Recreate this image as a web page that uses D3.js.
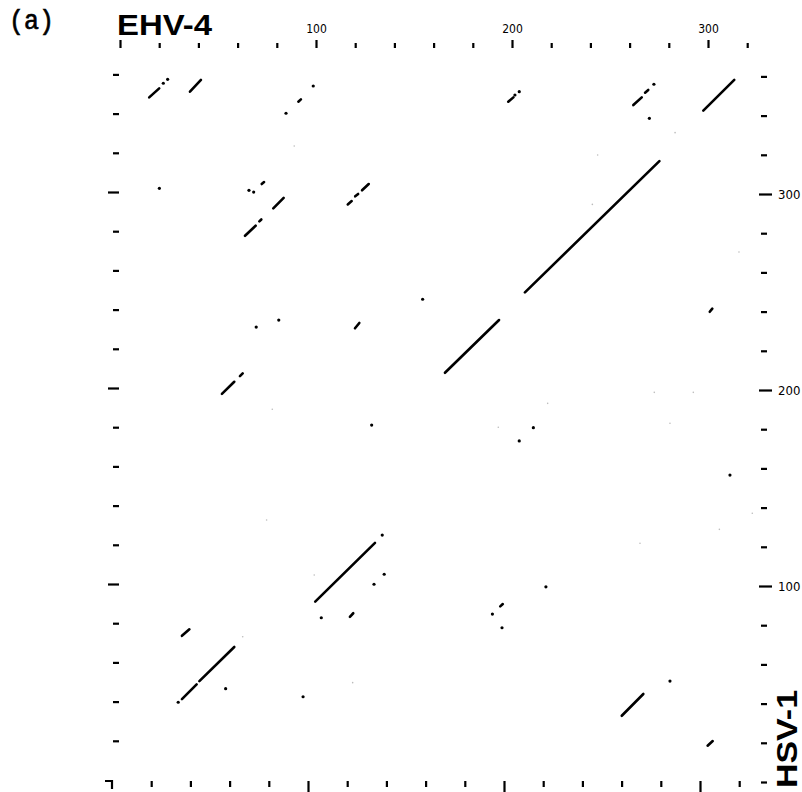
<!DOCTYPE html>
<html>
<head>
<meta charset="utf-8">
<script src="https://cdn.jsdelivr.net/npm/d3@7"></script>
<style>
  html, body { margin: 0; padding: 0; background: #fff; }
  svg { display: block; }
</style>
</head>
<body>
<svg id="plot" width="802" height="792"></svg>
<script>
// Dot-matrix comparison of EHV-4 (horizontal) against HSV-1 (vertical), residue positions.
const xMax = 320;           // EHV-4 axis extent
const yMax = 360;           // HSV-1 axis extent
const tickStep = 20;
const xTickLabels = [100, 200, 300];
const yTickLabels = [100, 200, 300];

// Diagonal runs of similarity: [ehv4Start, hsv1Start, ehv4End, hsv1End]
const segments = [
  [14.9, 349.3, 20.0, 353.9],
  [35.7, 352.2, 41.3, 358.2],
  [91.0, 347.1, 92.3, 348.3],
  [198.1, 347.1, 200.7, 349.3],
  [261.9, 345.4, 266.2, 349.3],
  [267.9, 351.7, 269.5, 353.1],
  [297.6, 342.5, 313.4, 358.2],
  [206.6, 249.8, 275.2, 316.8],
  [165.8, 208.8, 193.4, 235.7],
  [72.3, 305.1, 73.5, 306.1],
  [78.2, 292.7, 83.5, 298.0],
  [63.8, 278.7, 69.2, 283.8],
  [71.1, 286.0, 72.1, 287.0],
  [116.2, 294.7, 118.2, 296.4],
  [120.0, 298.8, 121.5, 300.0],
  [123.5, 301.9, 126.9, 305.1],
  [119.9, 231.5, 122.1, 234.2],
  [52.0, 198.0, 58.3, 204.2],
  [61.2, 207.1, 62.6, 208.5],
  [99.6, 92.0, 130.1, 122.0],
  [117.3, 84.3, 119.0, 86.1],
  [31.6, 74.6, 35.4, 77.9],
  [31.6, 42.3, 39.1, 49.8],
  [40.5, 51.5, 58.3, 68.9],
  [194.0, 89.6, 195.3, 90.8],
  [256.0, 33.8, 267.0, 44.9],
  [299.8, 18.5, 302.4, 20.9],
  [300.9, 239.9, 302.2, 241.5]
];

// Isolated matches: [ehv4, hsv1]
const dots = [
  [22.1, 356.5], [24.3, 358.5], [84.7, 341.2], [98.6, 355.1],
  [201.5, 350.5], [203.7, 352.2], [272.4, 356.0], [270.1, 338.6],
  [20.1, 302.9], [65.8, 301.9], [68.2, 301.0], [81.0, 235.7],
  [128.4, 182.1], [133.8, 126.0], [134.8, 106.0], [129.6, 100.9],
  [102.7, 83.8], [29.7, 40.7], [53.9, 47.6], [93.4, 43.5],
  [210.9, 180.8], [203.7, 174.0], [217.3, 99.6], [190.0, 85.7],
  [194.9, 78.7], [154.4, 246.3], [311.2, 156.6], [280.6, 51.5],
  [69.5, 232.1]
];

// Weak single-residue hits, printed lightly
const faintDots = [
  [88.9, 324.5], [77.7, 190.2], [74.8, 133.7], [99.1, 105.6],
  [62.6, 74.1], [118.7, 50.7], [315.8, 270.4], [283.2, 331.3],
  [305.8, 128.9], [322.6, 137.1], [265.3, 121.8], [243.7, 319.9],
  [241.0, 294.7], [272.6, 198.8], [292.5, 198.8], [280.6, 183.0],
  [193.0, 181.0], [218.2, 193.2]
];

const svg = d3.select("#plot");

// Data scales (top and right axes carry the labels)
const x = d3.scaleLinear().domain([0, xMax]).range([120, 120 + xMax * 1.96]);
const y = d3.scaleLinear().domain([0, yMax]).range([782, 782 - yMax * 1.96]);
// The opposite frame edges are printed slightly offset
const xBottom = d3.scaleLinear().domain([0, xMax]).range([112, 112 + xMax * 1.96]);
const yLeft = d3.scaleLinear().domain([0, yMax]).range([780, 780 - yMax * 1.96]);

const xTicks = d3.range(0, xMax + 1, tickStep);
const yTicks = d3.range(0, yMax + 1, tickStep);
const isMajor = d => d % 100 === 0;
const tickFont = "'DejaVu Sans Condensed', 'DejaVu Sans', sans-serif";

function styleAxis(g) {
  g.select(".domain").remove();
  g.selectAll(".tick line").attr("stroke", "#000").attr("stroke-width", 2.2);
}

// Top axis
const topAxis = svg.append("g")
  .attr("transform", "translate(0,48)")
  .call(d3.axisTop(x).tickValues(xTicks).tickSize(5)
    .tickFormat(d => xTickLabels.includes(d) ? d : ""));
styleAxis(topAxis);
topAxis.selectAll(".tick line").attr("y2", d => isMajor(d) ? -8 : -5);
topAxis.selectAll(".tick text")
  .attr("y", -15).attr("dy", 0)
  .attr("font-family", tickFont).attr("font-size", 12).attr("fill", "#000");

// Right axis
const rightAxis = svg.append("g")
  .attr("transform", "translate(761,0)")
  .call(d3.axisRight(y).tickValues(yTicks).tickSize(6)
    .tickFormat(d => yTickLabels.includes(d) ? d : ""));
styleAxis(rightAxis);
rightAxis.selectAll(".tick line")
  .attr("x1", d => isMajor(d) && d > 0 ? -2 : 0)
  .attr("x2", d => isMajor(d) && d > 0 ? 11 : 6);
rightAxis.selectAll(".tick text")
  .attr("x", 17)
  .attr("font-family", tickFont).attr("font-size", 13).attr("fill", "#000");

// Left axis (unlabelled)
const leftAxis = svg.append("g")
  .attr("transform", "translate(119,0)")
  .call(d3.axisLeft(yLeft).tickValues(yTicks.filter(d => d > 0)).tickSize(6).tickFormat(""));
styleAxis(leftAxis);
leftAxis.selectAll(".tick line").attr("x2", d => isMajor(d) ? -11 : -6);

// Bottom axis (unlabelled)
const bottomAxis = svg.append("g")
  .attr("transform", "translate(0,781)")
  .call(d3.axisBottom(xBottom).tickValues(xTicks.filter(d => d > 0)).tickSize(6).tickFormat(""));
styleAxis(bottomAxis);
bottomAxis.selectAll(".tick line").attr("y2", d => isMajor(d) ? 11 : 6);

// Bottom-left origin corner
svg.append("path")
  .attr("d", `M${xBottom(0) - 7},${yLeft(0) + 1}H${xBottom(0)}V${yLeft(0) + 9}`)
  .attr("fill", "none").attr("stroke", "#000").attr("stroke-width", 2.2);

// Faint hits
svg.append("g").selectAll("circle")
  .data(faintDots).join("circle")
  .attr("cx", d => x(d[0])).attr("cy", d => y(d[1]))
  .attr("r", 0.8).attr("fill", "#bbb");

// Diagonal runs
svg.append("g").selectAll("line")
  .data(segments).join("line")
  .attr("x1", d => x(d[0])).attr("y1", d => y(d[1]))
  .attr("x2", d => x(d[2])).attr("y2", d => y(d[3]))
  .attr("stroke", "#000").attr("stroke-width", 2.6).attr("stroke-linecap", "round");

// Single hits
svg.append("g").selectAll("circle")
  .data(dots).join("circle")
  .attr("cx", d => x(d[0])).attr("cy", d => y(d[1]))
  .attr("r", 1.6).attr("fill", "#000");

// Titles
svg.append("text")
  .attr("x", 9).attr("y", 29)
  .attr("font-family", "'Liberation Mono', 'DejaVu Sans Mono', monospace")
  .attr("font-size", 27)
  .attr("textLength", 45).attr("lengthAdjust", "spacingAndGlyphs")
  .attr("fill", "#000").attr("stroke", "#000").attr("stroke-width", 0.7)
  .text("(a)");

svg.append("text")
  .attr("x", 117).attr("y", 35)
  .attr("font-family", "'Liberation Sans', Arial, sans-serif")
  .attr("font-weight", "bold").attr("font-size", 30)
  .attr("textLength", 95).attr("lengthAdjust", "spacingAndGlyphs")
  .attr("fill", "#000")
  .text("EHV-4");

svg.append("text")
  .attr("transform", "translate(797,788) rotate(-90)")
  .attr("font-family", "'Liberation Sans', Arial, sans-serif")
  .attr("font-weight", "bold").attr("font-size", 30)
  .attr("textLength", 98).attr("lengthAdjust", "spacingAndGlyphs")
  .attr("fill", "#000")
  .text("HSV-1");
</script>
</body>
</html>
